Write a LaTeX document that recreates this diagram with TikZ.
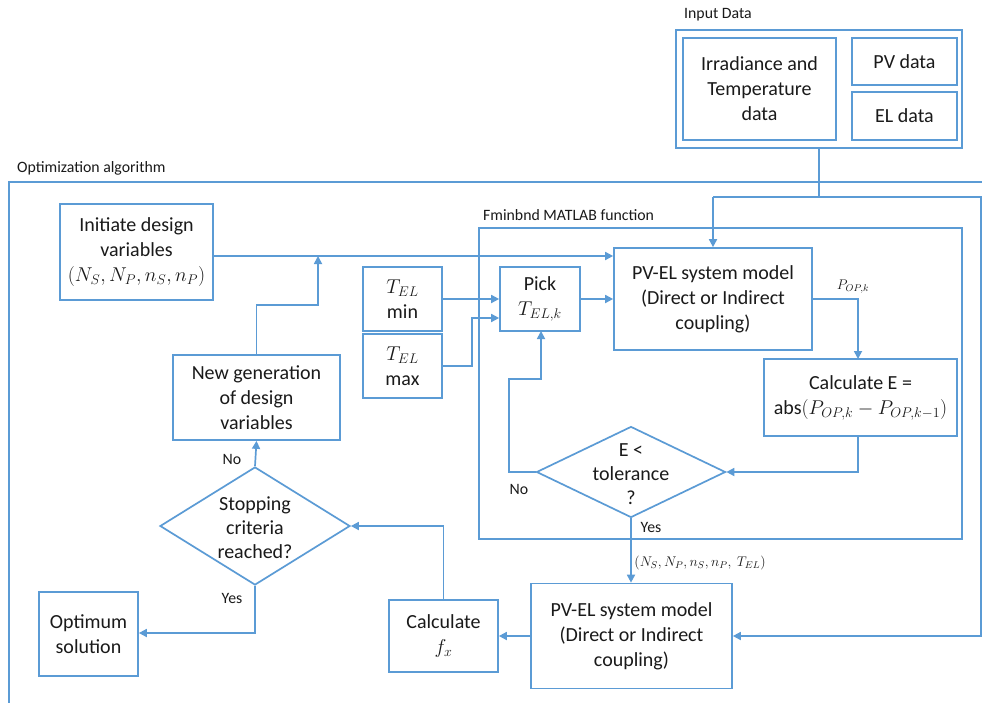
\RequirePackage{fix-cm}
\documentclass[tikz,border=0pt]{standalone}
\usepackage{fontspec}
\setmainfont{Carlito}
\usetikzlibrary{arrows.meta,shapes.geometric,calc}
\definecolor{bl}{HTML}{5B9BD5}
\definecolor{tx}{HTML}{1A1A1A}
\begin{document}
\begin{tikzpicture}[x=1pt,y=-1pt,
  box/.style={draw=bl, line width=1.7pt, align=center, inner sep=0pt, text=tx, font=\fontsize{20}{25}\selectfont},
  dia/.style={draw=bl, line width=1.7pt, shape=diamond, inner sep=0pt},
  ln/.style={draw=bl, line width=1.7pt},
  arr/.style={ln, -{Triangle[length=8pt,width=8pt]}},
  lbl/.style={font=\fontsize{15.8}{18}\selectfont, text=tx, inner sep=0pt},
  btxt/.style={align=center, inner sep=0pt, text=tx, font=\fontsize{20}{24}\selectfont}]
\useasboundingbox (0,0) rectangle (982,702);
\fill[white] (0,0) rectangle (982,702);
% frames
\node[lbl, anchor=west] (lin) at (684,15) {Input Data};
\node[lbl, anchor=west] (lopt) at (17,168) {Optimization algorithm};
\node[lbl, anchor=west] (lfmin) at (483,215) {Fminbnd MATLAB function};
\draw[ln] (9,710) -- (9,182) -- (990,182);
\draw[ln] (479,228) rectangle (962,539);
% input data
\node[draw=bl, line width=1.7pt, minimum width=286pt, minimum height=118pt, inner sep=0pt] (inbox) at (819,89) {};
\node[box, minimum width=153pt, minimum height=102pt] (irr) at (759.5,89) {Irradiance and\\Temperature\\data};
\node[box, minimum width=105pt, minimum height=47pt] (pv) at (904.5,61.5) {PV data};
\node[box, minimum width=105pt, minimum height=48pt] (el) at (904.5,116) {EL data};
% main nodes
\node[box, minimum width=153pt, minimum height=96pt] (init) at (136.5,252) {Initiate design\\variables\\$(N_S,N_P,n_S,n_P)$};
\node[box, minimum width=198pt, minimum height=102pt] (pvel1) at (713,299) {PV-EL system model\\(Direct or Indirect\\coupling)};
\node[box, minimum width=79pt, minimum height=64pt] (tmin) at (402.5,299) {$T_{EL}$\\min};
\node[box, minimum width=79pt, minimum height=64pt] (tmax) at (402.5,366) {$T_{EL}$\\max};
\node[box, minimum width=80pt, minimum height=64pt] (pick) at (540,299) {Pick\\$T_{EL,k}$};
\node[box, minimum width=193pt, minimum height=77pt] (calcE) at (860.5,397.5) {Calculate E =\\abs$(P_{OP,k}-P_{OP,k-1})$};
\node[dia, minimum width=189pt, minimum height=91pt] (tol) at (631,472) {};
\node[btxt] (toltxt) at (631,474) {E <\\tolerance\\?};
\node[box, minimum width=201pt, minimum height=105pt] (pvel2) at (631.5,636) {PV-EL system model\\(Direct or Indirect\\coupling)};
\node[box, minimum width=109pt, minimum height=72pt] (calcf) at (443.5,636) {Calculate\\$f_x$};
\node[dia, minimum width=190pt, minimum height=118pt] (stop) at (255,526) {};
\node[btxt] (stoptxt) at (255,528) {Stopping\\criteria\\reached?};
\node[box, minimum width=99pt, minimum height=84pt] (opt) at (88.5,634) {Optimum\\solution};
\node[box, minimum width=167pt, minimum height=85pt] (newgen) at (256.5,397.5) {New generation\\of design\\variables};
% coordinates
\coordinate (j1) at (318,256);
\coordinate (ja) at (819,197);
\coordinate (jb) at (713,197);
\coordinate (jc) at (981,197);
\coordinate (jd) at (981,636);
% connectors
\draw[ln] (inbox.south) -- (ja);
\draw[arr] (jb) -- (pvel1.north);
\draw[arr] (jb) -- (jc) -- (jd) -- (pvel2.east |- jd);
\draw[arr] (init.east |- j1) -- (pvel1.west |- j1);
\draw[arr] (newgen.north) -- (256.5,305) -- (318,305) -- (j1);
\draw[arr] (tmin.east) -- (pick.west |- tmin.east);
\draw[arr] (tmax.east) -- (472,366) -- (472,318) -- (pick.west |- 0,318);
\draw[arr] (pick.east) -- (pvel1.west |- pick.east);
\draw[arr] (pvel1.east) -- (858,299) -- (858,359);
\node[lbl, font=\fontsize{14}{16}\selectfont] (pop) at (853,287) {$P_{OP,k}$};
\draw[arr] (858,436) -- (858,472) -- (tol.east);
\draw[arr] (tol.west) -- (509,472) -- (509,379) -- (541,379) -- (541,331);
\node[lbl] (no1) at (519,489) {No};
\draw[arr] (tol.south) -- (tol.south |- pvel2.north);
\node[lbl] (yes1) at (651,527) {Yes};
\node[lbl, font=\fontsize{14}{16}\selectfont] (vars) at (700,563) {$(N_S,N_P,n_S,n_P,\ T_{EL})$};
\draw[arr] (pvel2.west) -- (calcf.east);
\draw[arr] (calcf.north) -- (443.5,526) -- (stop.east);
\draw[arr] (stop.south) -- (255,633) -- (opt.east |- 0,633);
\node[lbl] (yes2) at (232,598) {Yes};
\draw[arr] (stop.north) -- (newgen.south);
\node[lbl] (no2) at (232,459) {No};
\end{tikzpicture}
\end{document}
